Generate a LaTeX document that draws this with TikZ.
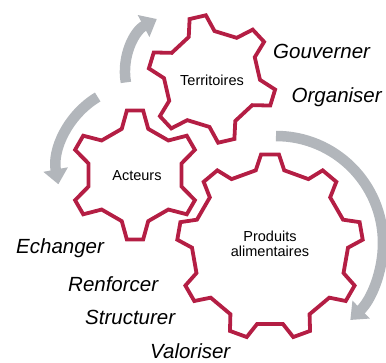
\documentclass[tikz,border=0pt]{standalone}
\usepackage{fontspec}
\setmainfont{Liberation Sans}
\usetikzlibrary{arrows.meta}
\definecolor{gearred}{RGB}{180,30,68}
\definecolor{arrowgray}{RGB}{178,182,187}
\begin{document}
\begin{tikzpicture}[x=1pt,y=1pt,
  gearline/.style={draw=gearred, line width=3.8pt, line join=miter},
  cyclearrow/.style={draw=arrowgray, line width=10.5pt, -{Triangle[width=24pt,length=15pt]}},
  gearlabel/.style={font=\fontsize{14.5}{15.5}\selectfont, align=center, inner sep=0pt},
  verb/.style={font=\fontsize{20.5}{22}\selectfont\itshape, anchor=base west, inner sep=0pt},
  pics/gear/.style n args={6}{code={
    \draw[gearline] ({#4-#5}:#2)
      \foreach \k in {1,...,#1}{
        -- ({#4+(\k-1)*360/#1-#5}:#2)
        -- ({#4+(\k-1)*360/#1-#6}:#3)
        -- ({#4+(\k-1)*360/#1+#6}:#3)
        -- ({#4+(\k-1)*360/#1+#5}:#2)
      } -- cycle;
  }}
]
\useasboundingbox (0,0) rectangle (386,-362);

% gears
\pic at (212,-79) {gear={6}{48}{64}{103}{16}{7.5}};
\pic at (135,-175) {gear={6}{48}{65}{90}{16}{7.2}};
\pic at (270,-247) {gear={9}{78}{93}{90}{10.5}{5.5}};

% gear labels
\node[gearlabel] (territoires) at (212,-80) {Territoires};
\node[gearlabel] (acteurs) at (137,-176) {Acteurs};
\node[gearlabel] (produits) at (270,-244) {Produits\\alimentaires};

% cycle arrows
\coordinate (arrowAstart) at (125.9,-82.4);
\coordinate (arrowBstart) at (97.7,-97.0);
\coordinate (arrowCstart) at (276,-136);
\draw[cyclearrow] (arrowAstart) arc[start angle=190, end angle=118, radius=60];
\draw[cyclearrow] (arrowBstart) arc[start angle=121, end angle=190.5, radius=84];
\draw[cyclearrow] (arrowCstart) arc[start angle=90, end angle=-46, radius=107];

% verbs
\node[verb] (gouverner) at (273,-58.5) {Gouverner};
\node[verb] (organiser) at (291.5,-102) {Organiser};
\node[verb] (echanger) at (16,-253) {Echanger};
\node[verb] (renforcer) at (68,-291) {Renforcer};
\node[verb] (structurer) at (85,-324) {Structurer};
\node[verb] (valoriser) at (150,-358) {Valoriser};
\end{tikzpicture}
\end{document}
